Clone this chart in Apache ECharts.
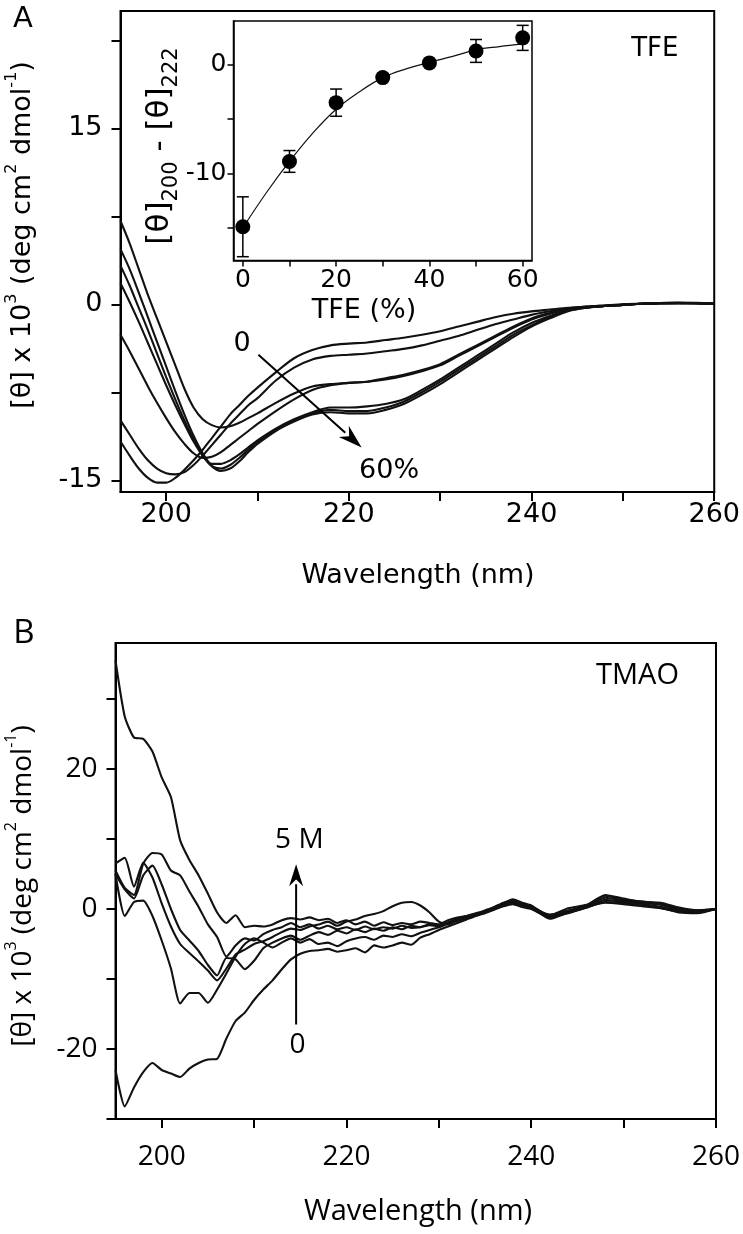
<!DOCTYPE html>
<html><head><meta charset="utf-8">
<script src="https://cdn.jsdelivr.net/npm/echarts@6/dist/echarts.min.js"></script>
<style>html,body{margin:0;padding:0;background:#fff}#c{width:743px;height:1234px}</style>
</head><body><div id="c"></div>
<script>
// ---------- Panel A: TFE spectra ----------
const wlA = [195,196,197,198,199,200,201,202,203,204,205,206,207,208,209,210,212,214,216,218,220,222,224,226,228,230,232,234,236,238,240,242,244,246,248,250,252,254,256,258,260];
const tfe0  = [-11.7,-12.9,-14.0,-14.8,-15.2,-15.2,-14.8,-14.1,-13.3,-12.4,-11.4,-10.4,-9.4,-8.6,-7.8,-7.1,-5.8,-4.6,-3.9,-3.5,-3.35,-3.25,-3.05,-2.85,-2.6,-2.3,-1.9,-1.5,-1.1,-0.8,-0.6,-0.45,-0.3,-0.2,-0.1,-0.05,0.05,0.1,0.12,0.1,0.05];
const tfe10 = [-9.9,-11.1,-12.3,-13.3,-14.0,-14.4,-14.5,-14.3,-13.7,-12.9,-12.0,-11.1,-10.2,-9.4,-8.6,-8.0,-6.5,-5.4,-4.7,-4.4,-4.3,-4.2,-4.0,-3.8,-3.5,-3.1,-2.7,-2.2,-1.7,-1.3,-0.9,-0.6,-0.35,-0.2,-0.1,0,0.05,0.1,0.1,0.12,0.05];
const tfe20 = [-2.6,-4.0,-5.5,-7.0,-8.4,-9.7,-10.9,-11.9,-12.7,-13.1,-13.0,-12.6,-12.0,-11.4,-10.8,-10.2,-9.1,-8.1,-7.3,-6.9,-6.7,-6.6,-6.4,-6.1,-5.7,-5.2,-4.4,-3.6,-2.8,-2.0,-1.3,-0.8,-0.45,-0.25,-0.15,-0.05,0.05,0.1,0.1,0.1,0.05];
const tfe30 = [7.1,5.2,3.0,0.8,-1.2,-3.2,-5.2,-7.2,-8.8,-9.8,-10.3,-10.5,-10.4,-10.1,-9.7,-9.3,-8.4,-7.6,-7.0,-6.8,-6.7,-6.6,-6.3,-6.0,-5.6,-5.1,-4.3,-3.5,-2.7,-1.9,-1.2,-0.75,-0.45,-0.25,-0.15,-0.05,0.05,0.1,0.12,0.1,0.05];
const tfe40 = [1.8,0.2,-1.5,-3.3,-5.1,-6.9,-8.6,-10.2,-11.7,-12.9,-13.6,-13.6,-13.3,-12.8,-12.2,-11.6,-10.6,-9.8,-9.2,-8.8,-8.8,-8.7,-8.5,-8.1,-7.3,-6.4,-5.4,-4.4,-3.4,-2.4,-1.6,-1.0,-0.5,-0.25,-0.15,-0.05,0.05,0.1,0.1,0.1,0.05];
const tfe50 = [3.3,1.6,-0.3,-2.2,-4.2,-6.2,-8.1,-9.9,-11.5,-12.9,-13.8,-14.0,-13.7,-13.1,-12.4,-11.7,-10.7,-9.9,-9.3,-9.0,-9.1,-9.1,-8.8,-8.3,-7.5,-6.6,-5.6,-4.6,-3.6,-2.6,-1.8,-1.1,-0.55,-0.3,-0.15,-0.05,0.05,0.1,0.12,0.1,0.05];
const tfe60 = [4.7,3.0,1.0,-1.1,-3.2,-5.3,-7.4,-9.4,-11.2,-12.7,-13.8,-14.2,-14.0,-13.4,-12.6,-11.9,-10.8,-10.0,-9.4,-9.2,-9.3,-9.3,-9.0,-8.5,-7.7,-6.8,-5.8,-4.8,-3.8,-2.8,-1.9,-1.2,-0.6,-0.3,-0.15,-0.05,0.05,0.1,0.1,0.1,0.05];
const seriesA = [tfe0, tfe10, tfe20, tfe30, tfe40, tfe50, tfe60];

// ---------- Inset: [θ]200 - [θ]222 vs TFE ----------
const insetTFE  = [0,10,20,30,40,50,60];
const insetDiff = [-14.9,-8.9,-3.5,-1.2,0.15,1.25,2.45];
const insetErr  = [2.75,1.0,1.25,0.3,0.2,1.05,1.15];
const fitTFE  = [0,5,10,15,20,25,30,35,40,45,50,55,60];
const fitDiff = [-15.0,-11.8,-8.9,-6.3,-4.1,-2.5,-1.2,-0.4,0.2,0.75,1.35,1.65,1.9];

// ---------- Panel B: TMAO spectra ----------
const wlB = [195,196,197,198,199,200,201,202,203,204,205,206,207,208,209,210,211,212,213,214,215,216,217,218,219,220,221,222,223,224,225,226,227,228,229,230,231,232,233,234,235,236,237,238,239,240,242,244,246,248,250,252,254,256,258,260];
const tmao0 = [-23.0,-28.2,-25.5,-23.3,-22.0,-23.0,-23.5,-24.0,-22.8,-22.0,-21.5,-21.4,-18.5,-16.0,-14.8,-13.0,-11.5,-10.2,-8.6,-7.2,-6.4,-6.0,-5.9,-5.7,-6.1,-5.9,-5.6,-6.2,-5.2,-5.5,-5.2,-4.8,-5.1,-4.1,-3.6,-3.0,-2.5,-2.0,-1.5,-1.0,-0.6,-0.1,0.4,0.7,0.3,0.0,-1.2,-0.4,0.3,0.9,0.7,0.4,0.1,-0.4,-0.2,0];
const tmao1 = [5.0,-1.0,1.0,1.2,-1.0,-4.5,-8.5,-13.5,-12.0,-12.0,-13.4,-11.5,-9.2,-6.8,-5.0,-4.2,-4.8,-5.5,-4.8,-4.2,-4.8,-4.3,-5.0,-4.8,-5.3,-4.6,-4.2,-4.0,-4.4,-3.8,-4.0,-3.6,-3.9,-3.4,-3.0,-2.6,-2.1,-1.7,-1.3,-0.9,-0.5,0.0,0.5,0.9,0.5,0.1,-1.1,-0.6,0.2,1.0,0.8,0.5,0.2,-0.5,-0.6,0];
const tmao2 = [5.0,2.8,1.5,4.8,6.2,3.5,0.0,-3.0,-4.5,-6.0,-8.0,-9.5,-7.0,-7.2,-8.6,-7.4,-5.6,-4.8,-4.2,-3.8,-4.4,-3.8,-3.3,-3.7,-3.1,-3.5,-2.9,-3.3,-2.8,-3.1,-2.6,-2.9,-2.4,-2.6,-2.2,-2.3,-1.9,-1.4,-1.0,-0.8,-0.3,0.1,0.6,1.0,0.7,0.3,-1.4,-0.5,0.2,1.3,1.0,0.7,0.3,-0.3,-0.5,0];
const tmao3 = [6.5,7.3,3.2,6.6,4.5,0.8,-2.5,-5.0,-6.3,-7.5,-8.8,-10.2,-8.5,-6.5,-5.8,-5.0,-4.6,-4.0,-3.3,-2.8,-3.0,-2.5,-2.2,-1.8,-2.4,-1.8,-1.5,-1.0,-0.7,-0.3,0.4,0.9,1.0,0.5,-0.5,-1.8,-2.2,-1.6,-1.3,-0.9,-0.5,0.1,0.8,1.4,0.9,0.5,-1.0,-0.2,0.5,2.0,1.5,1.0,0.9,0.2,-0.2,0];
const tmao4 = [5.5,3.0,2.0,6.5,8.0,7.8,5.5,4.8,2.5,0.3,-2.2,-4.0,-6.8,-5.2,-4.2,-4.5,-3.6,-3.0,-2.6,-2.0,-2.6,-2.2,-2.8,-2.4,-2.9,-2.6,-3.0,-2.5,-2.9,-2.6,-2.8,-2.4,-2.7,-2.6,-2.3,-2.5,-2.0,-1.5,-1.1,-0.7,-0.2,0.3,0.9,1.2,0.6,0.3,-0.9,0.1,0.6,1.9,1.3,1.1,0.7,0.0,-0.4,0];
const tmao5 = [35.5,27.5,24.5,24.3,22.5,18.8,16.0,9.8,7.0,4.8,2.2,-0.5,-2.0,-0.9,-2.6,-2.4,-2.5,-2.2,-1.6,-1.3,-1.5,-1.2,-1.6,-1.4,-2.0,-1.6,-2.2,-1.8,-2.4,-1.9,-2.3,-2.0,-2.2,-1.8,-2.0,-2.2,-1.6,-1.2,-1.0,-0.6,-0.4,0.2,0.5,0.8,0.4,0.2,-0.8,-0.3,0.4,1.6,1.2,0.9,0.6,-0.2,-0.3,0];
const seriesB = [tmao0, tmao1, tmao2, tmao3, tmao4, tmao5];

// ---------- tick / label values ----------
const ticksAx = [200,210,220,230,240,250,260], labelsAx = [200,220,240,260];
const ticksAy = [-15,-7.5,0,7.5,15,22.5], labelsAy = [-15,0,15];
const ticksIx = [0,10,20,30,40,50,60], labelsIx = [0,20,40,60];
const ticksIy = [-15,-10,-5,0], labelsIy = [-10,0];
const ticksBx = [200,210,220,230,240,250,260], labelsBx = [200,220,240,260];
const ticksBy = [-30,-20,-10,0,10,20,30], labelsBy = [-20,0,20];

const FA = 'DejaVu Sans', FB = 'Open Sans';
const zip = (xs, ys) => xs.map((x,i)=>[x, ys[i]]);

function axisDef(idx, min, max, ticks, labels, font, size, margin, lw, tickLen) {
  return {type:'value', gridIndex: idx, min, max,
    axisLine:{show:true, onZero:false, lineStyle:{color:'#000', width:lw}},
    axisTick:{show:true, customValues: ticks, length: tickLen, lineStyle:{color:'#000', width:lw}},
    axisLabel:{show:true, customValues: labels, color:'#000', fontFamily:font, fontSize:size, margin},
    splitLine:{show:false}};
}

const chart = echarts.init(document.getElementById('c'), null, {renderer:'canvas'});
const lineS = (xi, data, w) => ({type:'line', xAxisIndex:xi, yAxisIndex:xi, data, showSymbol:false, symbol:'none',
  lineStyle:{color:'#111', width:w}, smooth:false, silent:true, animation:false, z:3});

const series = [];
seriesA.forEach(s => series.push(Object.assign(lineS(0, zip(wlA, s), 2.1), {smooth:0.3})));
series.push(Object.assign(lineS(1, zip(fitTFE, fitDiff), 1.2), {smooth:0.4}));
series.push({type:'custom', xAxisIndex:1, yAxisIndex:1, silent:true, animation:false, z:4,
  data: insetTFE.map((x,i)=>[x, insetDiff[i]-insetErr[i], insetDiff[i]+insetErr[i]]),
  renderItem: (params, api) => {
    const lo = api.coord([api.value(0), api.value(1)]);
    const hi = api.coord([api.value(0), api.value(2)]);
    const c = 6;
    const st = {stroke:'#000', lineWidth:1.5};
    return {type:'group', children:[
      {type:'line', shape:{x1:lo[0], y1:lo[1], x2:hi[0], y2:hi[1]}, style:st},
      {type:'line', shape:{x1:lo[0]-c, y1:lo[1], x2:lo[0]+c, y2:lo[1]}, style:st},
      {type:'line', shape:{x1:hi[0]-c, y1:hi[1], x2:hi[0]+c, y2:hi[1]}, style:st}]};
  }});
series.push({type:'scatter', xAxisIndex:1, yAxisIndex:1, data: zip(insetTFE, insetDiff), symbol:'circle', symbolSize:15,
  itemStyle:{color:'#000', opacity:1}, silent:true, animation:false, z:5});
seriesB.forEach(s => series.push(Object.assign(lineS(2, zip(wlB, s), 2.1), {smooth:0.2})));

const option = {
  animation:false,
  backgroundColor:'#fff',
  grid:[
    {left:120.5, top:11, width:596.5, height:481, show:true, borderColor:'#000', borderWidth:2, backgroundColor:'transparent'},
    {left:233.5, top:21, width:298.5, height:239.5, show:true, borderColor:'#000', borderWidth:1.5, backgroundColor:'#fff'},
    {left:115.5, top:643, width:600.5, height:476, show:true, borderColor:'#000', borderWidth:2, backgroundColor:'transparent'}
  ],
  xAxis:[
    axisDef(0,195,260,ticksAx,labelsAx,FA,27,9,2,9),
    axisDef(1,-2,62,ticksIx,labelsIx,FA,25,7,1.5,6),
    axisDef(2,195,260,ticksBx,labelsBx,FB,28,24,2,9)
  ],
  yAxis:[
    axisDef(0,-16,25,ticksAy,labelsAy,FA,27,18,2,9),
    axisDef(1,-18,4,ticksIy,labelsIy,FA,25,7,1.5,6),
    axisDef(2,-30,38,ticksBy,labelsBy,FB,28,18,2,9)
  ],
  series
};
chart.setOption(option);

// annotations positioned in data coordinates
const px = (i, x, y) => chart.convertToPixel({xAxisIndex:i, yAxisIndex:i}, [x, y]);
const txt = (pos, text, font, size, extra) => Object.assign({type:'text', x:pos[0], y:pos[1], z:10,
  style:{text, font: size + 'px "' + font + '"', fill:'#000', align:'center', verticalAlign:'middle'}}, extra||{});
function arrow(p0, p1, lw, head, hw) {
  const dx = p1[0]-p0[0], dy = p1[1]-p0[1], L = Math.hypot(dx,dy), ux = dx/L, uy = dy/L;
  const bx = p1[0]-ux*head, by = p1[1]-uy*head;
  const nx = -uy, ny = ux;
  return [
    {type:'line', z:10, shape:{x1:p0[0], y1:p0[1], x2:bx+ux*2, y2:by+uy*2}, style:{stroke:'#000', lineWidth:lw}},
    {type:'polygon', z:10, shape:{points:[[p1[0],p1[1]],[bx+nx*hw, by+ny*hw],[p1[0]-ux*head*0.7, p1[1]-uy*head*0.7],[bx-nx*hw, by-ny*hw]]}, style:{fill:'#000'}}
  ];
}
const yTitleRich = (font, size) => ({
  n:{fontFamily:font, fontSize:size, lineHeight:size+6, verticalAlign:'bottom', fill:'#000'},
  s:{fontFamily:font, fontSize:Math.round(size*0.58), lineHeight:Math.round(size*0.58), verticalAlign:'top', fill:'#000'}
});
const yTitle = '{n|[θ] x 10}{s|3}{n| (deg cm}{s|2}{n| dmol}{s|-1}{n|)}';
const insetRich = {
  n:{fontFamily:FA, fontSize:31, lineHeight:38, verticalAlign:'top', fill:'#000'},
  b:{fontFamily:FA, fontSize:21, lineHeight:21, verticalAlign:'bottom', fill:'#000'}
};
const g = [];
g.push(txt([23,19], 'A', FA, 29));
g.push(txt([24,634], 'B', FB, 33));
g.push(txt(px(0,253.5,21.7), 'TFE', FA, 26));
g.push(txt(px(2,251.5,33.3), 'TMAO', FB, 29));
g.push(txt(px(0,208.3,-3.4), '0', FA, 27));
g.push(txt(px(0,224.4,-14.2), '60%', FA, 27));
g.push(...arrow(px(0,210.1,-4.3), px(0,221.4,-12.2), 2, 24, 7.5));
g.push(txt(px(2,214.9,9.9), '5 M', FB, 28));
g.push(txt(px(2,214.7,-19.4), '0', FB, 28));
g.push(...arrow(px(2,214.55,-16.5), px(2,214.55,6.4), 2, 22, 7));
// axis titles
g.push(txt([418,576], 'Wavelength (nm)', FA, 27));
g.push(txt([364,311], 'TFE (%)', FA, 27));
g.push(txt([418,1212], 'Wavelength (nm)', FB, 29));
g.push({type:'text', x:20, y:235, rotation:Math.PI/2, z:10, style:{text:yTitle, rich:yTitleRich(FA,27), align:'center', verticalAlign:'middle'}});
g.push({type:'text', x:20, y:886, rotation:Math.PI/2, z:10, style:{text:yTitle, rich:yTitleRich(FB,28), align:'center', verticalAlign:'middle'}});
g.push({type:'text', x:163, y:146, rotation:Math.PI/2, z:10, style:{text:'{n|[θ]}{b|200}{n| - [θ]}{b|222}', rich:insetRich, align:'center', verticalAlign:'middle'}});
chart.setOption({graphic: g});
</script>
</body></html>
